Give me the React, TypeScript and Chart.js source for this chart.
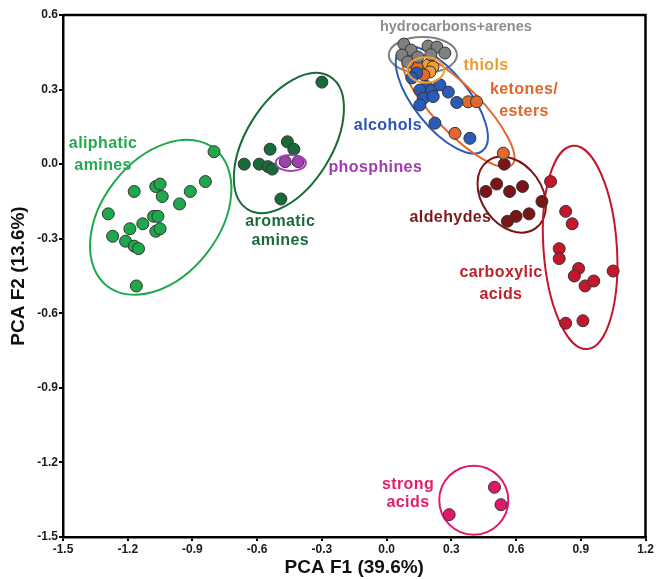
import React, { useEffect, useRef } from "react";
import { Chart, registerables } from "chart.js";

Chart.register(...registerables);

// ---- tick labels ----
const xTickValues = [-1.5, -1.2, -0.9, -0.6, -0.3, 0.0, 0.3, 0.6, 0.9, 1.2];
const yTickValues = [0.6, 0.3, 0.0, -0.3, -0.6, -0.9, -1.2, -1.5];

// ---- series values [F1, F2] ----
const hydrocarbonsArenes = [
  [0.08, 0.483], [0.113, 0.459], [0.071, 0.439], [0.192, 0.475], [0.233, 0.471],
  [0.27, 0.447], [0.098, 0.411], [0.145, 0.431], [0.205, 0.44],
];
const alcohols = [
  [0.139, 0.366], [0.117, 0.347], [0.186, 0.312], [0.154, 0.298], [0.209, 0.298],
  [0.247, 0.319], [0.286, 0.29], [0.17, 0.265], [0.216, 0.272], [0.154, 0.238],
  [0.325, 0.248], [0.224, 0.165], [0.386, 0.104],
];
const ketonesEsters = [
  [0.141, 0.391], [0.173, 0.359], [0.378, 0.251], [0.417, 0.251], [0.317, 0.124], [0.541, 0.044],
];
const thiols = [
  [0.145, 0.399], [0.192, 0.399], [0.215, 0.391], [0.155, 0.371], [0.201, 0.371], [0.127, 0.383],
];
const aliphaticAmines = [
  [-0.8, 0.05], [-1.17, -0.11], [-1.07, -0.09], [-1.05, -0.08], [-1.04, -0.13],
  [-0.91, -0.11], [-0.84, -0.07], [-0.96, -0.16], [-1.29, -0.2], [-1.13, -0.24],
  [-1.19, -0.26], [-1.08, -0.21], [-1.06, -0.21], [-1.07, -0.27], [-1.05, -0.26],
  [-1.27, -0.29], [-1.21, -0.31], [-1.17, -0.33], [-1.15, -0.34], [-1.16, -0.49],
];
const aromaticAmines = [
  [-0.3, 0.33], [-0.54, 0.06], [-0.46, 0.09], [-0.43, 0.06], [-0.66, 0.0],
  [-0.59, 0.0], [-0.55, -0.01], [-0.53, -0.02], [-0.49, -0.14],
];
const phosphines = [[-0.47, 0.01], [-0.41, 0.01]];
const aldehydes = [
  [0.545, 0.0], [0.46, -0.11], [0.51, -0.08], [0.57, -0.11], [0.63, -0.09],
  [0.72, -0.15], [0.56, -0.23], [0.6, -0.21], [0.66, -0.2],
];
const carboxylicAcids = [
  [0.76, -0.07], [0.83, -0.19], [0.86, -0.24], [0.8, -0.34], [0.8, -0.38],
  [0.89, -0.42], [0.87, -0.45], [0.92, -0.49], [0.96, -0.47], [1.05, -0.43],
  [0.83, -0.64], [0.91, -0.63],
];
const strongAcids = [[0.5, -1.3], [0.53, -1.37], [0.29, -1.41]];

// ---- groups (draw order) ----
const groupNames = [
  "hydrocarbons+arenes", "alcohols", "ketones/esters", "thiols", "aliphatic amines",
  "aromatic amines", "phosphines", "aldehydes", "carboxylic acids", "strong acids",
];
const groupValues = [
  hydrocarbonsArenes, alcohols, ketonesEsters, thiols, aliphaticAmines,
  aromaticAmines, phosphines, aldehydes, carboxylicAcids, strongAcids,
];
const groupColors = [
  "#808080", "#2b5bb9", "#e2692b", "#f0a032", "#1ea84c",
  "#176b3a", "#a23fae", "#7b1416", "#c4172c", "#e0186c",
];
const labelColors = [
  "#8e8e8e", "#2b55b5", "#e0662a", "#ee9a30", "#22aa50",
  "#1a6a3a", "#a03cb0", "#7a1a1a", "#c0202a", "#e0206a",
];
const labelSizes = [14.5, 16, 16, 16, 16, 16, 16, 16, 16, 16];

// ---- group ellipses: centre, major-axis tip (data units), minor/major ratio ----
const ellipseCenters = [
  [0.168, 0.439], [0.256, 0.258], [0.333, 0.218], [0.182, 0.379], [-1.047, -0.214],
  [-0.453, 0.085], [-0.444, 0.005], [0.58, -0.1226], [0.897, -0.335], [0.404, -1.352],
];
const ellipseTips = [
  [0.326, 0.439], [0.445, 0.054], [0.581, -0.003], [0.267, 0.379], [-0.798, 0.062],
  [-0.262, 0.352], [-0.374, 0.005], [0.69, -0.2585], [0.9295, -0.744], [0.564, -1.352],
];
const ellipseRatios = [0.53, 0.42, 0.3, 0.69, 0.67, 0.55, 0.53, 0.73, 0.36, 1.0];
const ellipseOverPoints = [false, false, false, true, false, false, true, false, false, false];

// ---- label texts and positions ----
const labelLines = [
  ["hydrocarbons+arenes"], ["alcohols"], ["ketones/", "esters"], ["thiols"], ["aliphatic", "amines"],
  ["aromatic", "amines"], ["phosphines"], ["aldehydes"], ["carboxylic", "acids"], ["strong", "acids"],
];
const labelPositions = [
  [[0.321, 0.552]], [[0.006, 0.154]], [[0.637, 0.298], [0.637, 0.212]], [[0.461, 0.395]],
  [[-1.314, 0.081], [-1.314, -0.007]], [[-0.493, -0.232], [-0.493, -0.309]],
  [[-0.0525, -0.015]], [[0.296, -0.216]], [[0.53, -0.437], [0.53, -0.526]],
  [[0.099, -1.29], [0.099, -1.362]],
];

function drawEllipses(chart: any, onTop: boolean) {
  const { ctx, scales, chartArea } = chart;
  const xs = scales.x;
  const ys = scales.y;
  ctx.save();
  ctx.beginPath();
  ctx.rect(chartArea.left, chartArea.top, chartArea.right - chartArea.left, chartArea.bottom - chartArea.top);
  ctx.clip();
  ellipseCenters.forEach((c, i) => {
    if (ellipseOverPoints[i] !== onTop) return;
    const cx = xs.getPixelForValue(c[0]);
    const cy = ys.getPixelForValue(c[1]);
    const tx = xs.getPixelForValue(ellipseTips[i][0]);
    const ty = ys.getPixelForValue(ellipseTips[i][1]);
    const a = Math.hypot(tx - cx, ty - cy);
    const ang = Math.atan2(ty - cy, tx - cx);
    ctx.beginPath();
    ctx.ellipse(cx, cy, a, a * ellipseRatios[i], ang, 0, Math.PI * 2);
    ctx.strokeStyle = groupColors[i];
    ctx.lineWidth = 2;
    ctx.stroke();
  });
  ctx.restore();
}

const ellipsePlugin = {
  id: "groupEllipses",
  beforeDatasetsDraw(chart: any) { drawEllipses(chart, false); },
  afterDatasetsDraw(chart: any) { drawEllipses(chart, true); },
};

const labelPlugin = {
  id: "groupLabels",
  afterDatasetsDraw(chart: any) {
    const { ctx, scales } = chart;
    ctx.save();
    ctx.textAlign = "center";
    ctx.textBaseline = "middle";
    labelLines.forEach((lines, i) => {
      ctx.fillStyle = labelColors[i];
      ctx.font = `bold ${labelSizes[i]}px 'Liberation Sans', Arial, sans-serif`;
      try { (ctx as any).letterSpacing = i === 0 ? "0px" : "0.4px"; } catch (e) {}
      lines.forEach((t, j) => {
        const p = labelPositions[i][j];
        ctx.fillText(t, scales.x.getPixelForValue(p[0]), scales.y.getPixelForValue(p[1]));
      });
    });
    ctx.restore();
  },
};

const framePlugin = {
  id: "frame",
  afterDraw(chart: any) {
    const { ctx, chartArea } = chart;
    ctx.save();
    ctx.strokeStyle = "#000";
    ctx.lineWidth = 2.5;
    ctx.beginPath();
    ctx.moveTo(chartArea.left, chartArea.top);
    ctx.lineTo(chartArea.right, chartArea.top);
    ctx.lineTo(chartArea.right, chartArea.bottom);
    ctx.stroke();
    ctx.restore();
  },
};

export default function App() {
  const ref = useRef<HTMLCanvasElement | null>(null);
  useEffect(() => {
    if (!ref.current) return;
    const tickFont = { family: "'Liberation Sans', Arial, sans-serif", size: 12, weight: "bold" as const };
    const titleFont = { family: "'Liberation Sans', Arial, sans-serif", size: 19, weight: "bold" as const, lineHeight: 1.2 };
    const chart = new Chart(ref.current, {
      type: "scatter",
      data: {
        datasets: groupValues.map((vals, i) => ({
          label: groupNames[i],
          data: vals.map((v) => ({ x: v[0], y: v[1] })),
          backgroundColor: groupColors[i],
          borderColor: "#333333",
          borderWidth: 1,
          pointRadius: 6,
          pointHoverRadius: 6,
        })),
      },
      plugins: [ellipsePlugin, labelPlugin, framePlugin],
      options: {
        animation: false,
        responsive: true,
        maintainAspectRatio: false,
        layout: { padding: { top: 15, right: 11.5, left: 0, bottom: 0 } },
        plugins: { legend: { display: false }, tooltip: { enabled: false } },
        scales: {
          x: {
            type: "linear",
            min: -1.5,
            max: 1.2,
            afterBuildTicks: (s: any) => { s.ticks = xTickValues.map((v) => ({ value: v })); },
            afterFit: (s: any) => { s.height = 42; },
            ticks: { font: tickFont, color: "#1a1a1a", padding: 1, maxRotation: 0, autoSkip: false, callback: (v: any) => Number(v).toFixed(1) },
            grid: { drawOnChartArea: false, drawTicks: true, tickLength: 4, color: "#000", lineWidth: 2 },
            border: { display: true, color: "#000", width: 2.5 },
            title: { display: true, text: "PCA F1 (39.6%)", font: titleFont, color: "#111", padding: { top: 0, bottom: 0 } },
          },
          y: {
            type: "linear",
            min: -1.5,
            max: 0.6,
            afterBuildTicks: (s: any) => { s.ticks = yTickValues.map((v) => ({ value: v })); },
            afterFit: (s: any) => { s.width = 63; },
            ticks: { font: tickFont, color: "#1a1a1a", padding: 1, autoSkip: false, callback: (v: any) => Number(v).toFixed(1) },
            grid: { drawOnChartArea: false, drawTicks: true, tickLength: 4, color: "#000", lineWidth: 2 },
            border: { display: true, color: "#000", width: 2.5 },
            title: { display: true, text: "PCA F2 (13.6%)", font: titleFont, color: "#111", padding: { top: 7, bottom: 0 } },
          },
        },
      },
    });
    return () => chart.destroy();
  }, []);
  return (
    <div style={{ position: "fixed", left: 0, top: 0, width: 657, height: 579, background: "#fff" }}>
      <canvas ref={ref} />
    </div>
  );
}
